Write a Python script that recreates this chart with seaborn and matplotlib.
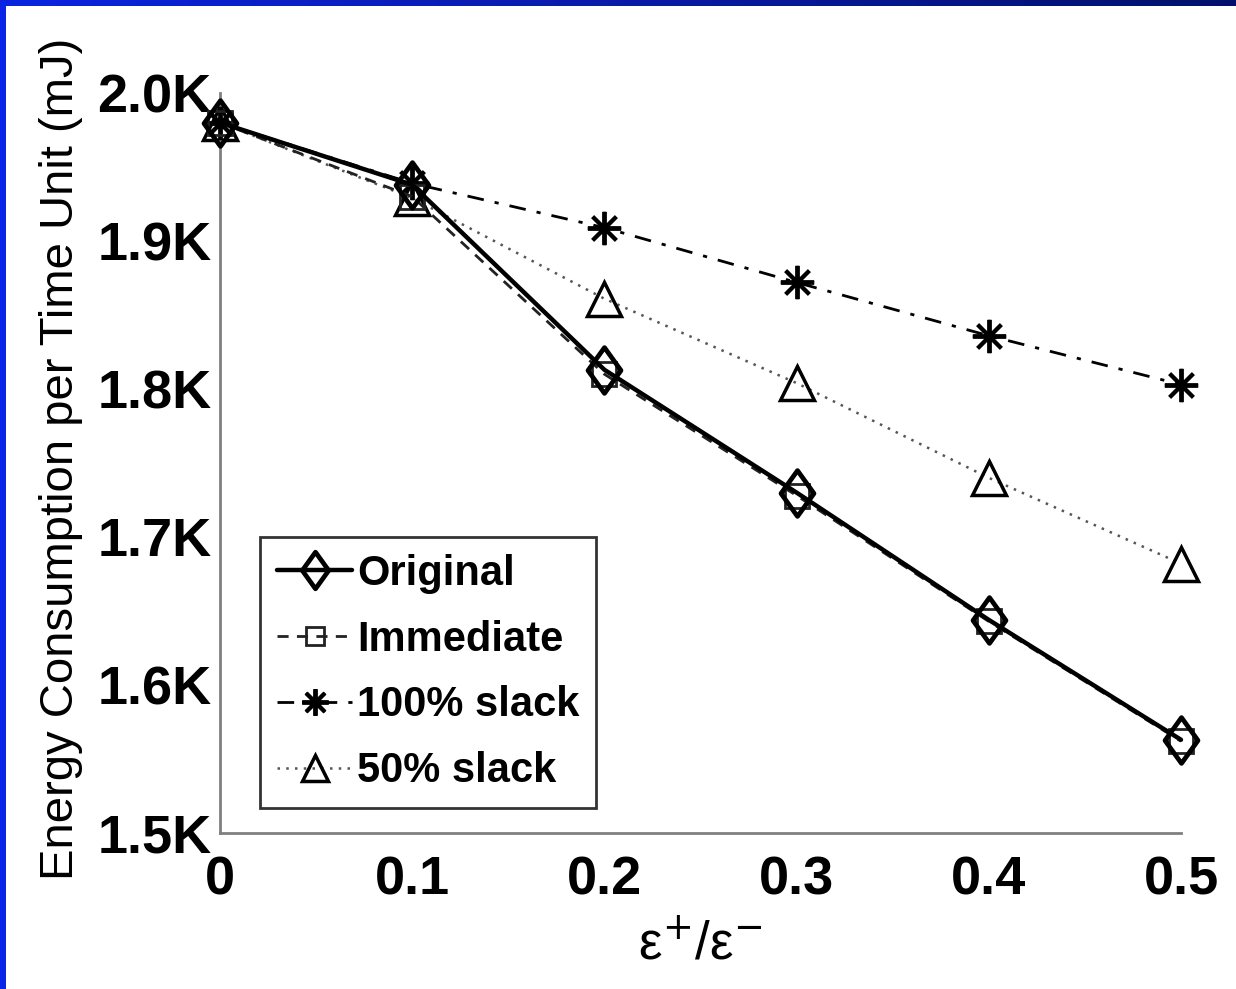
import matplotlib
matplotlib.use("Agg")
import matplotlib.pyplot as plt
from matplotlib.path import Path
from matplotlib.colors import LinearSegmentedColormap
import numpy as np
import seaborn as sns

# ---- data ----
x_vals = [0.0, 0.1, 0.2, 0.3, 0.4, 0.5]
original = [1980, 1938, 1813, 1730, 1644, 1563]
immediate = [1980, 1930, 1810, 1728, 1643, 1562]
slack100 = [1980, 1939, 1909, 1872, 1836, 1803]
slack50 = [1980, 1929, 1861, 1804, 1740, 1682]
series_names = ["Original", "Immediate", "100% slack", "50% slack"]
x_ticklabels = ["0", "0.1", "0.2", "0.3", "0.4", "0.5"]
y_ticks = [1500, 1600, 1700, 1800, 1900, 2000]
y_ticklabels = ["1.5K", "1.6K", "1.7K", "1.8K", "1.9K", "2.0K"]

sns.set_theme(style="white")
plt.rcParams["font.family"] = ["Liberation Sans", "DejaVu Sans"]
plt.rcParams["text.color"] = "black"
plt.rcParams["axes.labelcolor"] = "black"
plt.rcParams["xtick.color"] = "black"
plt.rcParams["ytick.color"] = "black"

W, H = 1236, 989
fig = plt.figure(figsize=(W / 100, H / 100), dpi=100)
fig.patch.set_facecolor("white")

# blue slide border (top and left)
grad = np.linspace(0, 1, 256).reshape(1, -1)
cmap = LinearSegmentedColormap.from_list("b", ["#0b24e0", "#0a1aa8", "#00106a"])
top_ax = fig.add_axes([0, 1 - 6 / H, 1, 6 / H])
top_ax.imshow(grad, aspect="auto", cmap=cmap)
top_ax.axis("off")
left_ax = fig.add_axes([0, 0, 6 / W, 1 - 6 / H])
left_ax.set_facecolor("#0b24e8")
left_ax.set_xticks([]); left_ax.set_yticks([])
for s in left_ax.spines.values():
    s.set_visible(False)

ax = fig.add_axes([220 / W, (H - 833) / H, (1181 - 220) / W, (833 - 93) / H])
ax.set_facecolor("white")

diamond = Path([(0, 1), (0.72, 0), (0, -1), (-0.72, 0), (0, 1)],
               [Path.MOVETO, Path.LINETO, Path.LINETO, Path.LINETO, Path.CLOSEPOLY])

styles = [
    dict(data=original, color="black", linestyle="-", linewidth=3.2, marker=diamond,
         markersize=33, markerfacecolor="none", markeredgecolor="black", markeredgewidth=3.4, zorder=5),
    dict(data=immediate, color="#222222", linestyle=(0, (4, 3)), linewidth=2.0, marker="s",
         markersize=17, markerfacecolor="none", markeredgecolor="#222222", markeredgewidth=2.0, zorder=4),
    dict(data=slack100, color="black", linestyle=(0, (6, 4, 1.5, 4)), linewidth=2.0, marker=(8, 2, 0),
         markersize=24, markeredgecolor="black", markeredgewidth=2.8, zorder=3),
    dict(data=slack50, color="#555555", linestyle=(0, (1, 2.5)), linewidth=1.8, marker="^",
         markersize=24, markerfacecolor="none", markeredgecolor="black", markeredgewidth=2.5, zorder=2),
]

for name, st in zip(series_names, styles):
    st = dict(st)
    y = st.pop("data")
    sns.lineplot(x=x_vals, y=y, ax=ax, label=name, clip_on=False, **st)

ax.set_xlim(0, 0.5)
ax.set_ylim(1500, 2000)
ax.set_xticks(x_vals)
ax.set_xticklabels(x_ticklabels, fontsize=39, fontweight="bold", color="black")
ax.set_yticks(y_ticks)
ax.set_yticklabels(y_ticklabels, fontsize=39, fontweight="bold", color="black")
ax.tick_params(axis="both", direction="in", length=8, width=1.5, color="#808080",
               labelcolor="black")
ax.tick_params(axis="x", pad=16)
ax.tick_params(axis="y", pad=6)

for side in ["top", "right"]:
    ax.spines[side].set_visible(False)
for side in ["left", "bottom"]:
    ax.spines[side].set_color("#808080")
    ax.spines[side].set_linewidth(2)

ax.set_ylabel("Energy Consumption per Time Unit (mJ)", fontsize=34, color="black")
ax.yaxis.set_label_coords(-0.143, 0.505)
ax.set_xlabel("ε$^{+}$/ε$^{-}$", fontsize=38, color="black")
ax.xaxis.set_label_coords(0.5, -0.118)

leg = ax.legend(loc="lower left", bbox_to_anchor=(0.042, 0.034), borderaxespad=0,
                prop={"weight": "bold", "size": 30}, frameon=True, fancybox=False,
                handlelength=1.8, handletextpad=0.12, labelspacing=0.62, borderpad=0.4,
                markerscale=0.8)
leg.get_frame().set_edgecolor("black")
leg.get_frame().set_linewidth(2.0)
for t in leg.get_texts():
    t.set_color("black")

fig.savefig("out.png", dpi=100, facecolor="white")
